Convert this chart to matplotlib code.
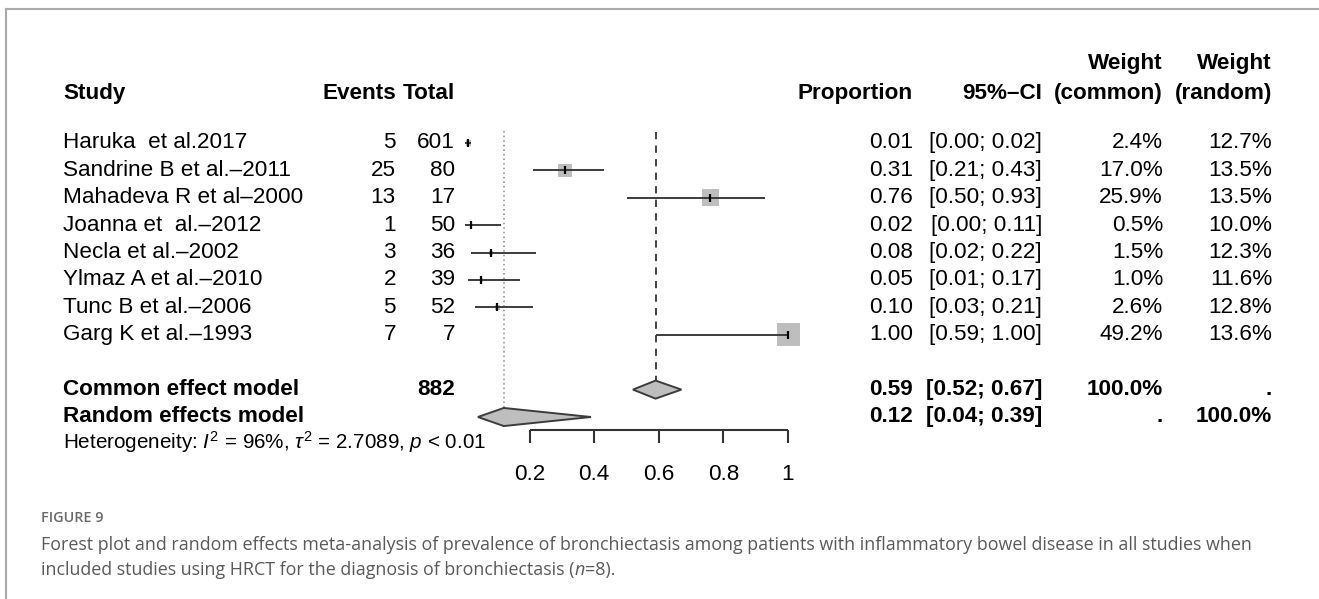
import numpy as np
import matplotlib.pyplot as plt
import matplotlib.transforms as mtransforms
from matplotlib.lines import Line2D

plt.rcParams['font.family'] = ['Liberation Sans', 'DejaVu Sans']
plt.rcParams['mathtext.fontset'] = 'custom'
plt.rcParams['mathtext.rm'] = 'Liberation Sans'
plt.rcParams['mathtext.it'] = 'Liberation Sans:italic'
plt.rcParams['mathtext.bf'] = 'Liberation Sans:bold'

# study level data
studies = ["Haruka  et al.2017", "Sandrine B et al.\u20132011", "Mahadeva R et al\u20132000",
           "Joanna et  al.\u20132012", "Necla et al.\u20132002", "Ylmaz A et al.\u20132010",
           "Tunc B et al.\u20132006", "Garg K et al.\u20131993"]
events = [5, 25, 13, 1, 3, 2, 5, 7]
totals = [601, 80, 17, 50, 36, 39, 52, 7]
prop = [0.01, 0.31, 0.76, 0.02, 0.08, 0.05, 0.10, 1.00]
ci_lo = [0.00, 0.21, 0.50, 0.00, 0.02, 0.01, 0.03, 0.59]
ci_hi = [0.02, 0.43, 0.93, 0.11, 0.22, 0.17, 0.21, 1.00]
w_common = [2.4, 17.0, 25.9, 0.5, 1.5, 1.0, 2.6, 49.2]
w_random = [12.7, 13.5, 13.5, 10.0, 12.3, 11.6, 12.8, 13.6]

# pooled estimates (estimate, lower, upper)
common_est = [0.59, 0.52, 0.67]
random_est = [0.12, 0.04, 0.39]
n_total = 882
xticks = [0.2, 0.4, 0.6, 0.8, 1.0]

W, H = 1319, 599
FS = 16.2
fig = plt.figure(figsize=(W / 100, H / 100), dpi=100)

# forest axes over the whole figure: x=0 -> 465px, x=1 -> 788px, one row = 27.4px
x0_px, unit_px = 465, 323
row0_px, row_px = 143, 27.4
ax = fig.add_axes([0, 0, 1, 1])
ax.set_xlim(-x0_px / unit_px, (W - x0_px) / unit_px)
ax.set_ylim((H - row0_px) / row_px, -row0_px / row_px)
ax.axis('off')

tr = mtransforms.blended_transform_factory(fig.transFigure, ax.transData)


def cell(px, row, s, ha='right', bold=False):
    ax.text(px / W, row, s, transform=tr, ha=ha, va='center', fontsize=FS,
            fontweight='bold' if bold else 'normal', color='black')


rows = np.arange(len(studies))
row_common, row_random = 9, 10

# column x positions (px)
c_study, c_ev, c_tot, c_prop, c_ci, c_wc, c_wr = 63, 396, 455, 913, 1042, 1163, 1272

# column headers
cell(c_study, -1.8, "Study", ha='left', bold=True)
cell(c_ev, -1.8, "Events", bold=True)
cell(c_tot, -1.8, "Total", bold=True)
cell(c_prop, -1.8, "Proportion", bold=True)
cell(c_ci, -1.8, "95%\u2013CI", bold=True)
cell(c_wc, -1.8, "(common)", bold=True)
cell(c_wc, -2.9, "Weight", bold=True)
cell(c_wr, -1.8, "(random)", bold=True)
cell(c_wr, -2.9, "Weight", bold=True)

# table rows
for i in rows:
    cell(c_study, i, studies[i], ha='left')
    cell(c_ev, i, str(events[i]))
    cell(c_tot, i, str(totals[i]))
    cell(c_prop, i, f"{prop[i]:.2f}")
    cell(c_ci, i, f"[{ci_lo[i]:.2f}; {ci_hi[i]:.2f}]")
    cell(c_wc, i, f"{w_common[i]:.1f}%")
    cell(c_wr, i, f"{w_random[i]:.1f}%")

cell(c_study, row_common, "Common effect model", ha='left', bold=True)
cell(c_tot, row_common, str(n_total), bold=True)
cell(c_prop, row_common, f"{common_est[0]:.2f}", bold=True)
cell(c_ci, row_common, f"[{common_est[1]:.2f}; {common_est[2]:.2f}]", bold=True)
cell(c_wc, row_common, "100.0%", bold=True)
cell(c_wr, row_common, ".", bold=True)

cell(c_study, row_random, "Random effects model", ha='left', bold=True)
cell(c_prop, row_random, f"{random_est[0]:.2f}", bold=True)
cell(c_ci, row_random, f"[{random_est[1]:.2f}; {random_est[2]:.2f}]", bold=True)
cell(c_wc, row_random, ".", bold=True)
cell(c_wr, row_random, "100.0%", bold=True)

ax.text(c_study / W, 10.9, r"Heterogeneity: $I^2$ = 96%, $\tau^2$ = 2.7089, $p$ < 0.01",
        transform=tr, ha='left', va='center', fontsize=14.9)

# squares sized by common-effect weight
side_px = 23 * np.sqrt(np.array(w_common) / max(w_common))
ax.scatter(prop, rows, marker='s', s=(side_px * 0.72) ** 2, color='#BEBEBE',
           linewidths=0, zorder=1)
ax.hlines(rows, ci_lo, ci_hi, color='#3c3c3c', lw=1.4, zorder=2)
ax.plot(prop, rows, ls='none', marker='|', ms=6, mew=1.6, color='black', zorder=3)

# reference lines for pooled estimates
h = 0.33
ax.vlines(common_est[0], -0.4, row_common - h, color='#333333', lw=1.3,
          linestyles=(0, (4, 3.5)), zorder=0)
ax.vlines(random_est[0], -0.45, row_random - h, color='#8a8a8a', lw=1.1,
          linestyles=(0, (1, 2)), zorder=0)

# diamonds
for est, r in [(common_est, row_common), (random_est, row_random)]:
    ax.fill([est[1], est[0], est[2], est[0]], [r, r - h, r, r + h],
            facecolor='#BEBEBE', edgecolor='#3c3c3c', lw=1.4, zorder=2)

# x axis drawn below the summary rows
axis_row = 10.47
ax.plot([xticks[0], xticks[-1]], [axis_row, axis_row], color='#333333', lw=1.5,
        solid_capstyle='butt')
ax.vlines(xticks, axis_row, axis_row + 0.48, color='#333333', lw=1.5)
for t in xticks:
    ax.text(t, 12.1, f"{t:g}", ha='center', va='center', fontsize=FS)

# frame lines of the figure box
fig.add_artist(Line2D([6 / W, 1], [1 - 9 / H, 1 - 9 / H], color='#ababab', lw=1.5))
fig.add_artist(Line2D([6 / W, 6 / W], [0, 1 - 9 / H], color='#ababab', lw=1.5))

# caption
cap_font = ['Open Sans', 'DejaVu Sans']
cap_fs = 12.9
fig.text(41 / W, 1 - 518 / H, "FIGURE 9", family=cap_font, fontweight='semibold',
         fontsize=10.4, color='#6a6a6a', va='center')
fig.text(41 / W, 1 - 545 / H,
         "Forest plot and random effects meta-analysis of prevalence of bronchiectasis "
         "among patients with inflammatory bowel disease in all studies when",
         family=cap_font, fontsize=cap_fs, color='#5a5a5a', va='center')
t1 = fig.text(41 / W, 1 - 570 / H,
              "included studies using HRCT for the diagnosis of bronchiectasis (",
              family=cap_font, fontsize=cap_fs, color='#5a5a5a', va='center')
t2 = ax.annotate("n", xy=(1, 0), xycoords=t1, ha='left', va='bottom',
                 family=cap_font, style='italic', fontsize=cap_fs, color='#5a5a5a')
ax.annotate("=8).", xy=(1, 0), xycoords=t2, ha='left', va='bottom',
            family=cap_font, fontsize=cap_fs, color='#5a5a5a')

fig.savefig("out.png", dpi=100)
